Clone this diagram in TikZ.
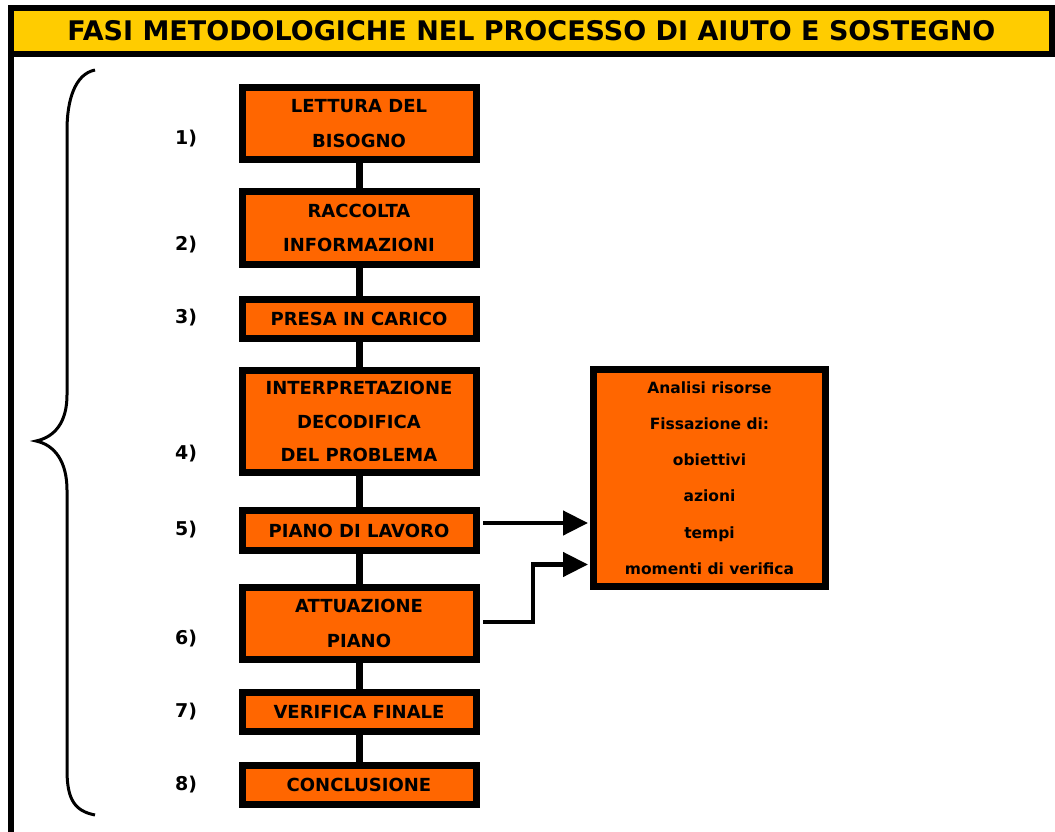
\documentclass[tikz,border=0pt]{standalone}
\usepackage{fontspec}
\setmainfont{DejaVu Sans}
\usetikzlibrary{arrows.meta}
\definecolor{boxorange}{HTML}{FF6600}
\definecolor{titleyellow}{HTML}{FFCC00}
\tikzset{
  phase/.style={draw=black, line width=7pt, fill=boxorange, minimum width=234pt, align=center, inner sep=0pt,
    font={\bfseries\fontsize{18}{34.5}\selectfont}},
  bigbox/.style={draw=black, line width=7pt, fill=boxorange, minimum width=232pt, minimum height=217pt, align=center, inner sep=0pt,
    font={\bfseries\fontsize{15.5}{36.2}\selectfont}},
  num/.style={font={\bfseries\fontsize{19}{22}\selectfont}, inner sep=0pt},
  link/.style={line width=7pt},
  arrowlink/.style={line width=4.5pt, -{Triangle[length=25pt,width=24pt]}},
}
\begin{document}
\begin{tikzpicture}[x=1pt,y=-1pt]
\useasboundingbox (0,0) rectangle (1055,832);
% frame
\draw[line width=6pt] (11,54) -- (11,832);
\node[draw=black, line width=6pt, fill=titleyellow, minimum width=1041pt, minimum height=46pt, inner sep=0pt,
  font={\bfseries\fontsize{27}{30}\selectfont}] (title) at (531.5,31) {FASI METODOLOGICHE NEL PROCESSO DI AIUTO E SOSTEGNO};
% brace
\draw[line width=3pt] (95,70) .. controls (75,74) and (67,100) .. (67,130) -- (67,395)
  .. controls (67,422) and (55,437) .. (36,441) .. controls (55,445) and (67,462) .. (67,490)
  -- (67,770) .. controls (67,800) and (75,811) .. (95,815);
% phase boxes
\node[phase, minimum height=72pt] (b1) at (359,123.5) {LETTURA DEL\\BISOGNO};
\node[phase, minimum height=73pt] (b2) at (359,228) {RACCOLTA\\INFORMAZIONI};
\node[phase, minimum height=39pt] (b3) at (359,319) {PRESA IN CARICO};
\node[phase, minimum height=102pt, font={\bfseries\fontsize{18}{33.5}\selectfont}] (b4) at (359,421.5) {INTERPRETAZIONE\\DECODIFICA\\DEL PROBLEMA};
\node[phase, minimum height=40pt] (b5) at (359,530.5) {PIANO DI LAVORO};
\node[phase, minimum height=72pt] (b6) at (359,623.5) {ATTUAZIONE\\PIANO};
\node[phase, minimum height=39pt] (b7) at (359,712) {VERIFICA FINALE};
\node[phase, minimum height=39pt] (b8) at (359,785) {CONCLUSIONE};
% numbers
\node[num] (n1) at (186,139) {1)};
\node[num] (n2) at (186,245) {2)};
\node[num] (n3) at (186,318) {3)};
\node[num] (n4) at (186,454) {4)};
\node[num] (n5) at (186,530) {5)};
\node[num] (n6) at (186,639) {6)};
\node[num] (n7) at (186,712) {7)};
\node[num] (n8) at (186,785) {8)};
% connectors
\foreach \a/\b in {b1/b2,b2/b3,b3/b4,b4/b5,b5/b6,b6/b7,b7/b8}
  \draw[link] (\a.south) -- (\b.north);
% big box
\node[bigbox] (big) at (709.5,478) {Analisi risorse\\Fissazione di:\\obiettivi\\azioni\\tempi\\momenti di verifica};
% arrows
\coordinate (a1s) at (483,523);
\coordinate (a1e) at (588,523);
\coordinate (a2s) at (483,622);
\coordinate (a2k) at (533,564.5);
\coordinate (a2e) at (588,564.5);
\draw[arrowlink] (a1s) -- (a1e);
\draw[arrowlink] (a2s) -| (a2k) -- (a2e);
\end{tikzpicture}
\end{document}
